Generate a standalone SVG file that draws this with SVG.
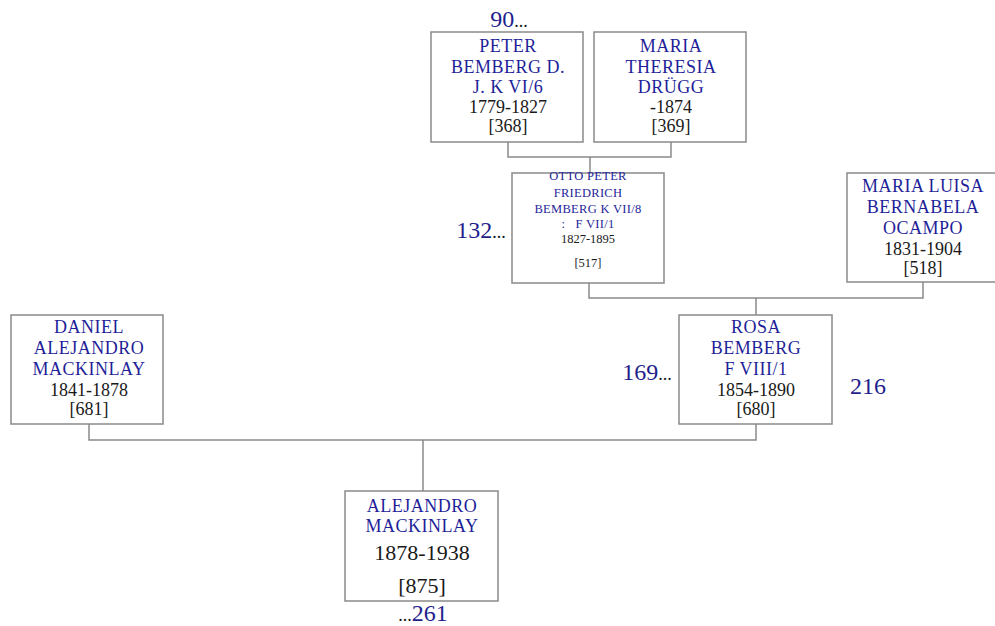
<svg xmlns="http://www.w3.org/2000/svg" width="995" height="626" viewBox="0 0 995 626">
<style>
.box{fill:#fff;stroke:#8a8a8a;stroke-width:1.5}
.ln{fill:none;stroke:#8a8a8a;stroke-width:1.5}
text{font-family:"Liberation Serif","DejaVu Serif",serif;text-anchor:middle}
.nm{fill:#1f1f99;font-size:18px;letter-spacing:0.5px}
.dt{fill:#1a1a1a;font-size:18px}
.sn{fill:#1f1f99;font-size:12.5px;letter-spacing:0.3px}
.sd{fill:#1a1a1a;font-size:12.5px}
.num{fill:#1f1f8c;font-size:24px}
</style>
<rect width="995" height="626" fill="#fff"/>
<g id="connectors">
<path class="ln" d="M508,142 V157 H671 V142 M590,157 V173"/>
<path class="ln" d="M589,283 V298 H923 V282 M756,298 V315"/>
<path class="ln" d="M89,424 V440 H756 V424 M423,440 V491"/>
</g>
<g id="n368">
<rect class="box" x="431" y="32" width="152" height="110"/>
<text class="nm" x="508" y="52">PETER</text>
<text class="nm" x="508" y="73">BEMBERG D.</text>
<text class="nm" x="508" y="93">J. K VI/6</text>
<text class="dt" x="508" y="113">1779-1827</text>
<text class="dt" x="508" y="132">[368]</text>
</g>
<g id="n369">
<rect class="box" x="594" y="32" width="152" height="110"/>
<text class="nm" x="671" y="52">MARIA</text>
<text class="nm" x="671" y="73">THERESIA</text>
<text class="nm" x="671" y="93">DRÜGG</text>
<text class="dt" x="671" y="113">-1874</text>
<text class="dt" x="671" y="132">[369]</text>
</g>
<g id="n517">
<rect class="box" x="512" y="173" width="152" height="110"/>
<text class="sn" x="588" y="180">OTTO PETER</text>
<text class="sn" x="588" y="197">FRIEDRICH</text>
<text class="sn" x="588" y="213">BEMBERG K VII/8</text>
<text class="sn" x="588" y="228" xml:space="preserve">:   F VII/1</text>
<text class="sd" x="588" y="243">1827-1895</text>
<text class="sd" x="588" y="267">[517]</text>
</g>
<g id="n518">
<rect class="box" x="847" y="173" width="152" height="109"/>
<text class="nm" x="923" y="192">MARIA LUISA</text>
<text class="nm" x="923" y="213">BERNABELA</text>
<text class="nm" x="923" y="234">OCAMPO</text>
<text class="dt" x="923" y="255">1831-1904</text>
<text class="dt" x="923" y="274">[518]</text>
</g>
<g id="n681">
<rect class="box" x="11" y="315" width="152" height="109"/>
<text class="nm" x="89" y="333">DANIEL</text>
<text class="nm" x="89" y="354">ALEJANDRO</text>
<text class="nm" x="89" y="375">MACKINLAY</text>
<text class="dt" x="89" y="396">1841-1878</text>
<text class="dt" x="89" y="415">[681]</text>
</g>
<g id="n680">
<rect class="box" x="679" y="315" width="153" height="109"/>
<text class="nm" x="756" y="333">ROSA</text>
<text class="nm" x="756" y="354">BEMBERG</text>
<text class="nm" x="756" y="375">F VIII/1</text>
<text class="dt" x="756" y="396">1854-1890</text>
<text class="dt" x="756" y="415">[680]</text>
</g>
<g id="n875">
<rect class="box" x="345" y="491" width="153" height="110"/>
<text class="nm" x="422" y="512">ALEJANDRO</text>
<text class="nm" x="422" y="532">MACKINLAY</text>
<text class="dt" x="422" y="560" style="font-size:22px">1878-1938</text>
<text class="dt" x="422" y="593" style="font-size:22px">[875]</text>
</g>
<g id="labels">
<text class="num" x="509" y="27">90<tspan fill="#1a1a1a" font-size="18">...</tspan></text>
<text class="num" x="481" y="238">132<tspan fill="#1a1a1a" font-size="18">...</tspan></text>
<text class="num" x="647" y="380">169<tspan fill="#1a1a1a" font-size="18">...</tspan></text>
<text class="num" x="868" y="394">216</text>
<text class="num" x="423" y="621"><tspan fill="#1a1a1a" font-size="18">...</tspan>261</text>
</g>
</svg>
